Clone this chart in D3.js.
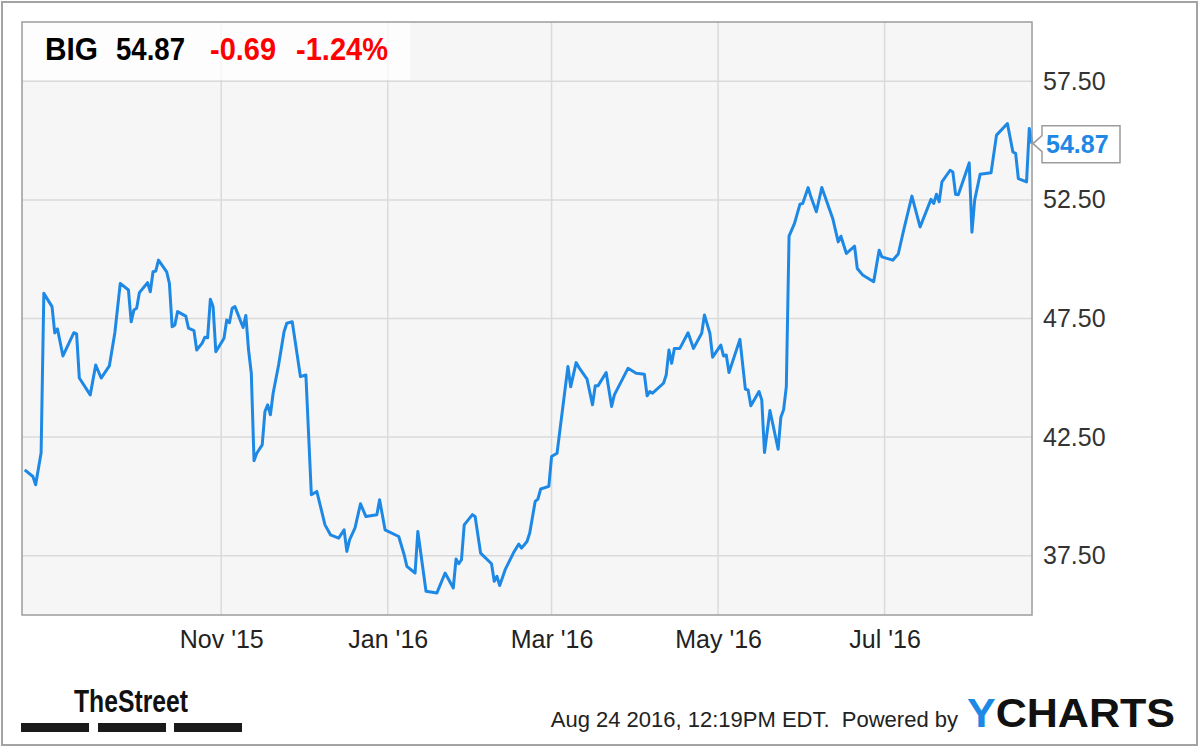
<!DOCTYPE html>
<html>
<head>
<meta charset="utf-8">
<script src="https://cdn.jsdelivr.net/npm/d3@7"></script>
<style>
  html, body { margin: 0; padding: 0; background: #fff; }
  svg { display: block; font-family: "Liberation Sans", Arial, sans-serif; }
</style>
</head>
<body>
<svg id="chart" width="1200" height="747"></svg>
<script>
"use strict";

// Quote header
const ticker = "BIG";
const lastPrice = 54.87;
const change = "-0.69";
const changePct = "-1.24%";
const stamp = "Aug 24 2016, 12:19PM EDT.  Powered by";

// Axes
const xDomain = ["2015-08-20", "2016-08-24"];
const yDomain = [35, 60];
const xTicks = ["2015-11-01", "2016-01-01", "2016-03-01", "2016-05-01", "2016-07-01"];
const yTicks = [37.5, 42.5, 47.5, 52.5, 57.5];

// Closing prices
const dates = [
  "2015-08-21", "2015-08-24", "2015-08-25", "2015-08-27", "2015-08-28", "2015-08-31",
  "2015-09-01", "2015-09-02", "2015-09-04", "2015-09-08", "2015-09-09", "2015-09-10",
  "2015-09-14", "2015-09-16", "2015-09-18", "2015-09-21", "2015-09-23", "2015-09-25",
  "2015-09-28", "2015-09-29", "2015-09-30", "2015-10-01", "2015-10-02", "2015-10-05",
  "2015-10-06", "2015-10-07", "2015-10-08", "2015-10-09", "2015-10-12", "2015-10-13",
  "2015-10-14", "2015-10-15", "2015-10-16", "2015-10-19", "2015-10-20", "2015-10-22",
  "2015-10-23", "2015-10-25", "2015-10-26", "2015-10-27", "2015-10-28", "2015-10-29",
  "2015-10-30", "2015-11-02", "2015-11-03", "2015-11-04", "2015-11-05", "2015-11-06",
  "2015-11-09", "2015-11-10", "2015-11-11", "2015-11-12", "2015-11-13", "2015-11-14",
  "2015-11-16", "2015-11-17", "2015-11-18", "2015-11-19", "2015-11-20", "2015-11-22",
  "2015-11-24", "2015-11-25", "2015-11-27", "2015-11-30", "2015-12-02", "2015-12-04",
  "2015-12-06", "2015-12-09", "2015-12-11", "2015-12-14", "2015-12-16", "2015-12-17",
  "2015-12-18", "2015-12-20", "2015-12-22", "2015-12-24", "2015-12-28", "2015-12-29",
  "2015-12-31", "2016-01-05", "2016-01-07", "2016-01-08", "2016-01-11", "2016-01-12",
  "2016-01-15", "2016-01-19", "2016-01-22", "2016-01-25", "2016-01-26", "2016-01-27",
  "2016-01-28", "2016-01-29", "2016-02-01", "2016-02-02", "2016-02-04", "2016-02-08",
  "2016-02-09", "2016-02-10", "2016-02-11", "2016-02-13", "2016-02-16", "2016-02-18",
  "2016-02-19", "2016-02-21", "2016-02-22", "2016-02-24", "2016-02-25", "2016-02-26",
  "2016-02-29", "2016-03-01", "2016-03-03", "2016-03-07", "2016-03-08", "2016-03-10",
  "2016-03-11", "2016-03-14", "2016-03-16", "2016-03-17", "2016-03-18", "2016-03-21",
  "2016-03-23", "2016-03-24", "2016-03-29", "2016-04-01", "2016-04-04", "2016-04-05",
  "2016-04-06", "2016-04-07", "2016-04-11", "2016-04-12", "2016-04-13", "2016-04-14",
  "2016-04-15", "2016-04-17", "2016-04-20", "2016-04-22", "2016-04-25", "2016-04-26",
  "2016-04-28", "2016-04-29", "2016-05-02", "2016-05-03", "2016-05-04", "2016-05-05",
  "2016-05-09", "2016-05-11", "2016-05-12", "2016-05-13", "2016-05-16", "2016-05-17",
  "2016-05-18", "2016-05-20", "2016-05-23", "2016-05-24", "2016-05-25", "2016-05-26",
  "2016-05-27", "2016-05-29", "2016-05-31", "2016-06-01", "2016-06-03", "2016-06-04",
  "2016-06-06", "2016-06-08", "2016-06-09", "2016-06-12", "2016-06-14", "2016-06-15",
  "2016-06-17", "2016-06-20", "2016-06-21", "2016-06-23", "2016-06-24", "2016-06-27",
  "2016-06-29", "2016-06-30", "2016-07-04", "2016-07-06", "2016-07-08", "2016-07-11",
  "2016-07-14", "2016-07-18", "2016-07-19", "2016-07-20", "2016-07-21", "2016-07-22",
  "2016-07-25", "2016-07-26", "2016-07-27", "2016-07-28", "2016-08-01", "2016-08-02",
  "2016-08-03", "2016-08-05", "2016-08-09", "2016-08-11", "2016-08-15", "2016-08-17",
  "2016-08-18", "2016-08-19", "2016-08-22", "2016-08-23", "2016-08-24",
];

const prices = [
  41.12, 40.84, 40.49, 41.84, 48.56, 48.00,
  46.89, 47.06, 45.92, 46.90, 46.85, 44.99,
  44.28, 45.54, 44.99, 45.50, 46.89, 48.98,
  48.70, 47.36, 47.86, 47.93, 48.59, 49.01,
  48.63, 49.47, 49.50, 49.96, 49.47, 48.98,
  47.15, 47.23, 47.79, 47.60, 47.09, 46.99,
  46.17, 46.46, 46.71, 46.69, 48.31, 48.00,
  46.10, 46.67, 47.44, 47.32, 47.93, 48.00,
  47.12, 47.63, 46.17, 45.19, 41.50, 41.82,
  42.17, 43.58, 43.86, 43.44, 44.35, 45.54,
  46.94, 47.30, 47.36, 45.05, 45.12, 40.07,
  40.21, 38.80, 38.38, 38.24, 38.59, 37.68,
  38.17, 38.67, 39.69, 39.15, 39.23, 39.86,
  38.59, 38.31, 37.54, 37.05, 36.77, 38.52,
  36.00, 35.93, 36.77, 36.14, 37.36, 37.16,
  37.33, 38.80, 39.23, 39.15, 37.61, 37.16,
  36.42, 36.63, 36.24, 36.91, 37.61, 37.99,
  37.82, 38.10, 38.46, 39.79, 39.89, 40.31,
  40.42, 41.68, 41.82, 45.48, 44.62, 45.64,
  45.44, 44.94, 43.86, 44.66, 44.66, 45.22,
  43.79, 44.28, 45.40, 45.19, 45.15, 44.24,
  44.42, 44.35, 44.77, 45.12, 46.17, 45.61,
  46.24, 46.24, 46.90, 46.24, 46.88, 47.65,
  46.88, 45.87, 46.38, 45.92, 45.96, 45.22,
  46.62, 44.52, 44.49, 43.82, 44.42, 44.07,
  41.85, 43.62, 41.99, 43.34, 43.65, 44.63,
  50.97, 51.51, 52.32, 52.35, 53.02, 52.63,
  52.00, 53.02, 52.70, 51.72, 50.73, 50.97,
  50.24, 50.55, 49.61, 49.33, 49.26, 49.05,
  50.38, 50.10, 49.96, 50.22, 51.23, 52.66,
  51.36, 52.52, 52.35, 52.74, 52.42, 53.26,
  53.75, 53.68, 52.74, 52.72, 54.06, 51.14,
  52.49, 53.58, 53.64, 55.23, 55.72, 54.52,
  54.46, 53.40, 53.26, 55.51, 54.87,
];

const parseDate = d3.utcParse("%Y-%m-%d");

function drawChart() {
  const svg = d3.select("#chart");
  const plot = {left: 22, top: 22, right: 1032, bottom: 615};

  const x = d3.scaleUtc()
              .domain(xDomain.map(parseDate))
              .range([plot.left, plot.right]);
  const y = d3.scaleLinear()
              .domain(yDomain)
              .range([plot.bottom, plot.top]);

  const points = dates.map((d, i) => [parseDate(d), prices[i]]);

  // Outer frame
  svg.append("rect")
     .attr("x", 2).attr("y", 2)
     .attr("width", 1195).attr("height", 743)
     .attr("fill", "#fff")
     .attr("stroke", "#a3a3a3")
     .attr("stroke-width", 2);

  // Plot background
  svg.append("rect")
     .attr("x", plot.left).attr("y", plot.top)
     .attr("width", plot.right - plot.left)
     .attr("height", plot.bottom - plot.top)
     .attr("fill", "#f6f6f6");

  // Grid
  svg.append("g")
     .selectAll("line.h")
     .data(yTicks)
     .enter()
     .append("line")
     .attr("x1", plot.left).attr("x2", plot.right)
     .attr("y1", d => y(d)).attr("y2", d => y(d))
     .attr("stroke", "#dadada")
     .attr("stroke-width", 1.5);

  svg.append("g")
     .selectAll("line.v")
     .data(xTicks.map(parseDate))
     .enter()
     .append("line")
     .attr("x1", d => x(d)).attr("x2", d => x(d))
     .attr("y1", plot.top).attr("y2", plot.bottom)
     .attr("stroke", "#dadada")
     .attr("stroke-width", 1.5);

  // Quote box
  svg.append("rect")
     .attr("x", plot.left).attr("y", plot.top)
     .attr("width", 388).attr("height", 58)
     .attr("fill", "#fff")
     .attr("opacity", 0.75);

  const header = [
    {text: ticker, x: 45, len: 53, color: "#000"},
    {text: d3.format(".2f")(lastPrice), x: 116, len: 69, color: "#000"},
    {text: change, x: 210, len: 66, color: "#ff0000"},
    {text: changePct, x: 296, len: 92, color: "#ff0000"},
  ];
  svg.append("g")
     .selectAll("text")
     .data(header)
     .enter()
     .append("text")
     .attr("x", d => d.x)
     .attr("y", 60)
     .attr("font-size", 32)
     .attr("font-weight", "bold")
     .attr("fill", d => d.color)
     .attr("textLength", d => d.len)
     .attr("lengthAdjust", "spacingAndGlyphs")
     .text(d => d.text);

  // Price line
  svg.append("path")
     .datum(points)
     .attr("fill", "none")
     .attr("stroke", "#1e88e5")
     .attr("stroke-width", 3)
     .attr("stroke-linejoin", "round")
     .attr("d", d3.line()
                  .x(p => x(p[0]))
                  .y(p => y(p[1])));

  // Plot border
  svg.append("rect")
     .attr("x", plot.left).attr("y", plot.top)
     .attr("width", plot.right - plot.left)
     .attr("height", plot.bottom - plot.top)
     .attr("fill", "none")
     .attr("stroke", "#9c9c9c")
     .attr("stroke-width", 1.5);

  // Y axis labels
  const yAxis = d3.axisRight(y)
                  .tickValues(yTicks)
                  .tickFormat(d3.format(".2f"))
                  .tickSize(0)
                  .tickPadding(11);
  const yg = svg.append("g")
                .attr("transform", `translate(${plot.right},0)`)
                .call(yAxis);
  yg.select(".domain").remove();
  yg.selectAll("text")
    .attr("font-size", 25)
    .attr("font-family", "Liberation Sans, Arial, sans-serif")
    .attr("fill", "#333");

  // X axis labels
  const xAxis = d3.axisBottom(x)
                  .tickValues(xTicks.map(parseDate))
                  .tickFormat(d3.utcFormat("%b '%y"))
                  .tickSize(0)
                  .tickPadding(15);
  const xg = svg.append("g")
                .attr("transform", `translate(0,${plot.bottom})`)
                .call(xAxis);
  xg.select(".domain").remove();
  xg.selectAll("text")
    .attr("font-size", 25)
    .attr("font-family", "Liberation Sans, Arial, sans-serif")
    .attr("fill", "#222");

  // Last price tag
  const yv = y(lastPrice);
  const tagLeft = plot.right + 10;
  const tagRight = plot.right + 88;
  const tagTop = yv - 18;
  const tagBottom = yv + 19;
  svg.append("path")
     .attr("d", `M${plot.right + 1},${yv} L${tagLeft},${yv - 8} L${tagLeft},${tagTop}`
               + ` L${tagRight},${tagTop} L${tagRight},${tagBottom} L${tagLeft},${tagBottom}`
               + ` L${tagLeft},${yv + 8} Z`)
     .attr("fill", "#fff")
     .attr("stroke", "#9c9c9c")
     .attr("stroke-width", 1.5);
  svg.append("text")
     .attr("x", tagLeft + 4)
     .attr("y", yv + 9)
     .attr("font-size", 25)
     .attr("font-weight", "bold")
     .attr("fill", "#1e88e5")
     .text(d3.format(".2f")(lastPrice));

  // Footer: TheStreet
  svg.append("text")
     .attr("x", 74)
     .attr("y", 712)
     .attr("font-size", 32)
     .attr("font-weight", "bold")
     .attr("fill", "#111")
     .attr("textLength", 114)
     .attr("lengthAdjust", "spacingAndGlyphs")
     .text("TheStreet");

  svg.append("g")
     .selectAll("rect")
     .data([21, 98, 174])
     .enter()
     .append("rect")
     .attr("x", d => d)
     .attr("y", 723)
     .attr("width", 68)
     .attr("height", 9)
     .attr("fill", "#1a1a1a");

  // Footer: timestamp + YCharts
  svg.append("text")
     .attr("x", 958)
     .attr("y", 727)
     .attr("text-anchor", "end")
     .attr("font-size", 22)
     .attr("fill", "#222")
     .style("white-space", "pre")
     .text(stamp);

  const logo = svg.append("text")
                  .attr("x", 967)
                  .attr("y", 727)
                  .attr("font-size", 40)
                  .attr("font-weight", "bold")
                  .attr("textLength", 208)
                  .attr("lengthAdjust", "spacingAndGlyphs");
  logo.append("tspan").attr("fill", "#1e88e5").text("Y");
  logo.append("tspan").attr("fill", "#111").text("CHARTS");
}

drawChart();
</script>
</body>
</html>
